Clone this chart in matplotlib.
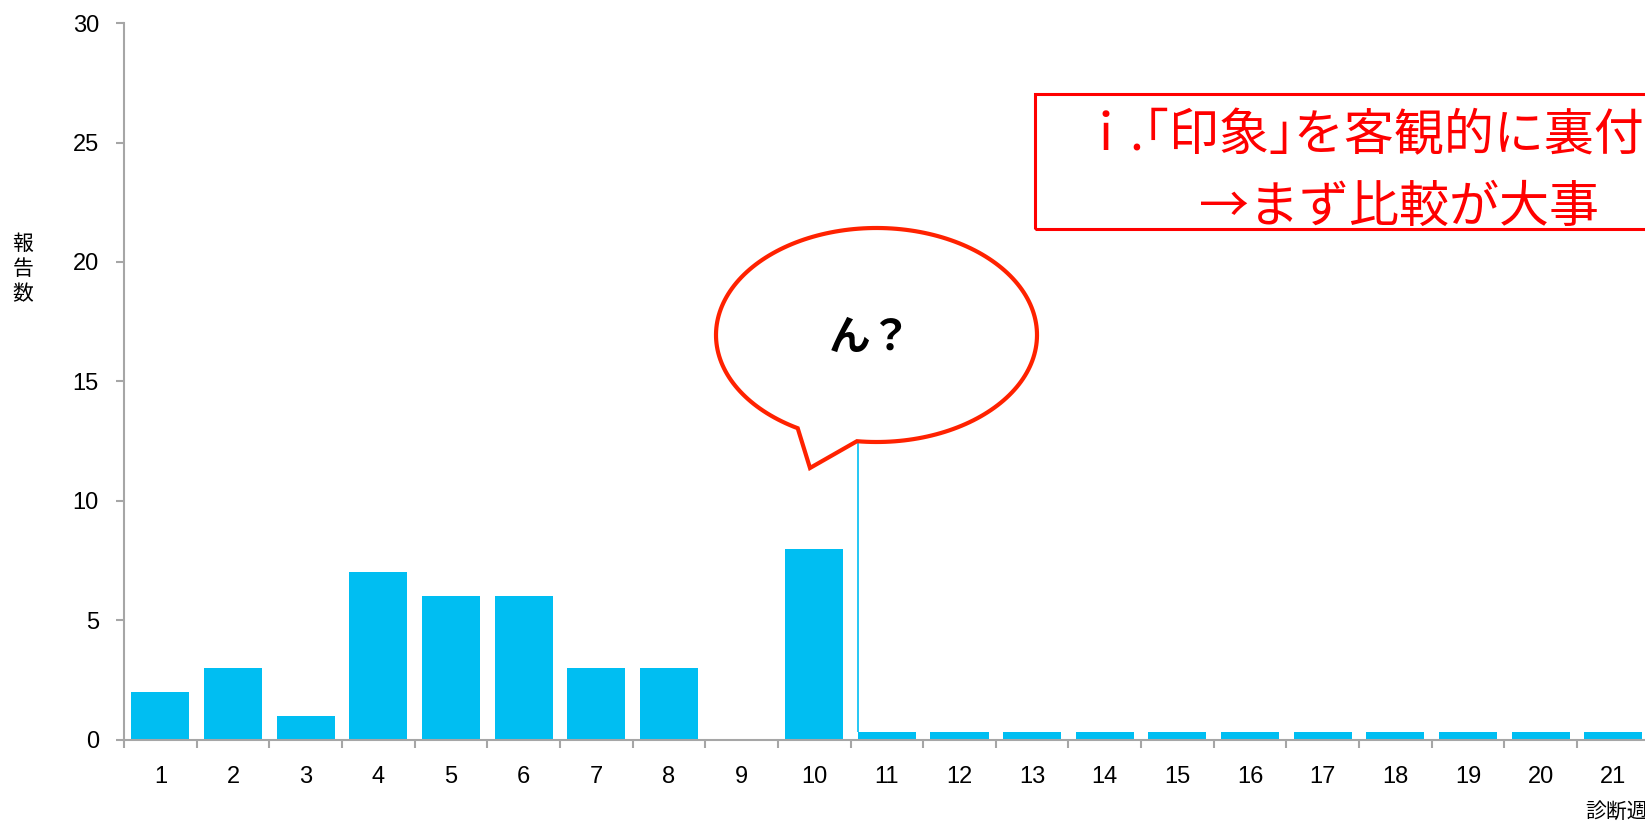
# -*- coding: utf-8 -*-
"""
Weekly report counts by diagnosis week, with callouts.
"""

import numpy as np
import matplotlib.pyplot as plt
from matplotlib.patches import Rectangle, PathPatch
from matplotlib.path import Path

plt.rcParams['font.family'] = ['Liberation Sans', 'Noto Sans CJK JP', 'DejaVu Sans']

# Data
weeks = list(range(1, 22))
counts = [2, 3, 1, 7, 6, 6, 3, 3, 0, 8,
          0.3, 0.3, 0.3, 0.3, 0.3, 0.3, 0.3, 0.3, 0.3, 0.3, 0.3]
y_ticks = [0, 5, 10, 15, 20, 25, 30]
marker_week = 11
marker_top = 12.5

W, H = 1645, 822
BAR_COLOR = '#00BEF2'
AXIS_COLOR = '#A6A6A6'


def fig_xy(x, y):
    # pixel position (origin top-left) -> figure fraction
    return x / W, 1 - y / H


fig = plt.figure(figsize=(W / 100, H / 100), dpi=100)
ax = fig.add_axes([124 / W, 82.4 / H, 21 * 72.65 / W, 716.5 / H])

ax.bar(weeks, counts, width=0.8, color=BAR_COLOR, edgecolor='none')
ax.vlines(marker_week - 0.4, counts[marker_week - 1], marker_top,
          color=BAR_COLOR, lw=1.2)

ax.set_xlim(0.5, len(weeks) + 0.5)
ax.set_ylim(0, 30)
ax.set_yticks(y_ticks)
ax.set_xticks(weeks)
ax.set_xticks(np.arange(0.5, len(weeks) + 1, 1), minor=True)

for side in ['top', 'right']:
    ax.spines[side].set_visible(False)
for side in ['left', 'bottom']:
    ax.spines[side].set_color(AXIS_COLOR)
    ax.spines[side].set_linewidth(1.5)

ax.tick_params(axis='y', which='major', length=6, width=1.5, color=AXIS_COLOR,
               labelsize=17, pad=12)
ax.tick_params(axis='x', which='major', length=0, labelsize=17, pad=19)
ax.tick_params(axis='x', which='minor', length=6, width=1.5, color=AXIS_COLOR)

# axis titles
fig.text(*fig_xy(23, 269), '報\n告\n数', ha='center', va='center',
         fontsize=15, linespacing=1.2, family=['Noto Sans CJK JP'])
fig.text(*fig_xy(1585, 812), '診断週', ha='left', va='center',
         fontsize=15, family=['Noto Sans CJK JP'])

# red note box (runs off the right edge)
x0, y0 = fig_xy(1035, 229)
fig.patches.append(Rectangle((x0, y0), 700 / W, 135 / H,
                             transform=fig.transFigure, fill=False,
                             edgecolor='#FF0000', lw=2.2))
fig.text(*fig_xy(1080, 136), 'ｉ.｢印象｣を客観的に裏付ける', ha='left', va='center',
         fontsize=36, color='#FF0000', family=['Noto Sans CJK JP'])
fig.text(*fig_xy(1199, 208), '→まず比較が大事', ha='left', va='center',
         fontsize=36, color='#FF0000', family=['Noto Sans CJK JP'])

# speech bubble
cx, cy, a, b = 876.5, 335, 160.5, 107
t_start, t_end = np.deg2rad(263), np.deg2rad(240.6 + 360)
t = np.linspace(t_start, t_end, 200)
pts = [(cx + a * np.cos(tt), cy - b * np.sin(tt)) for tt in t]
pts.append((810, 468))
pts.append(pts[0])
verts = [fig_xy(px, py) for px, py in pts]
codes = [Path.MOVETO] + [Path.LINETO] * (len(verts) - 2) + [Path.CLOSEPOLY]
fig.patches.append(PathPatch(Path(verts, codes), transform=fig.transFigure,
                             facecolor='white', edgecolor='#FF2200', lw=3,
                             joinstyle='miter'))
fig.text(*fig_xy(870, 338), 'ん？', ha='center', va='center', fontsize=30,
         fontweight='bold', family=['Noto Sans CJK JP'])

fig.savefig('out.png', dpi=100)
